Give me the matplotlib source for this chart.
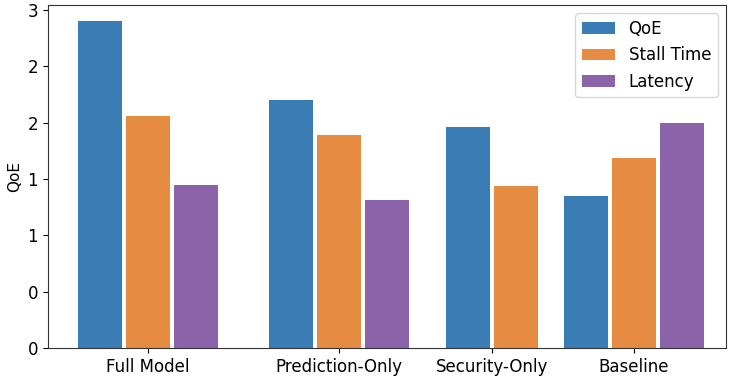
import numpy as np
import matplotlib
matplotlib.use("Agg")
import matplotlib.pyplot as plt
from matplotlib.ticker import FormatStrFormatter, MultipleLocator

categories = ["Full Model", "Prediction-Only", "Security-Only", "Baseline"]
series_names = ["QoE", "Stall Time", "Latency"]
qoe = [2.90, 2.20, 1.96, 1.35]
stall_time = [2.06, 1.89, 1.44, 1.69]
latency = [1.45, 1.31, np.nan, 2.00]

values = [qoe, stall_time, latency]
colors = ["#3a7db5", "#e68c42", "#8c62a8"]
group_pos = [0.0, 1.073, 1.933, 2.730]
bar_w = 0.25
stride = 0.27

plt.rcParams["font.family"] = ["DejaVu Sans"]
fig, ax = plt.subplots(figsize=(7.29, 3.79), dpi=100)
fig.subplots_adjust(left=0.0658, right=0.9959, top=0.9868, bottom=0.0818)

handles = [None] * len(series_names)
for gi, gx in enumerate(group_pos):
    present = [si for si in range(len(series_names)) if not np.isnan(values[si][gi])]
    n = len(present)
    for k, si in enumerate(present):
        off = (k - (n - 1) / 2) * stride
        b = ax.bar(gx + off, values[si][gi], width=bar_w, color=colors[si],
                   label=series_names[si])
        handles[si] = b

ax.set_xticks(group_pos)
ax.set_xticklabels(categories, fontsize=12)
ax.set_xlim(-0.562, 3.247)
ax.set_ylim(0, 3.045)
ax.yaxis.set_major_locator(MultipleLocator(0.5))
ax.yaxis.set_major_formatter(FormatStrFormatter("%d"))
ax.tick_params(axis="y", labelsize=12)
ax.set_ylabel("QoE", fontsize=11)
for s in ax.spines.values():
    s.set_color("#333333")

ax.legend(handles, series_names, loc="upper right", fontsize=12)
fig.savefig("out.png", dpi=100)
